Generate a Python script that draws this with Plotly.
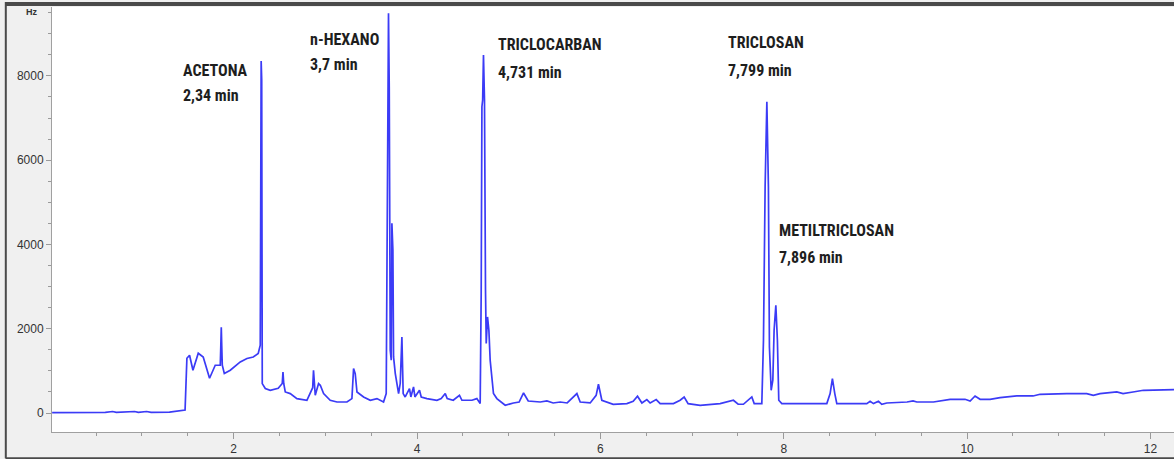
import plotly.graph_objects as go

# ---- data (time in min, signal in Hz) ----
time_min = [
    0.02, 0.30, 0.60, 0.68, 0.72, 0.92, 0.96, 1.05, 1.10, 1.30, 1.38, 1.45, 1.47,
    1.49, 1.519, 1.556, 1.614, 1.668, 1.737, 1.799, 1.854, 1.860, 1.865, 1.870,
    1.876, 1.898, 1.963, 2.072, 2.145, 2.214, 2.268, 2.290, 2.296, 2.300, 2.306,
    2.312, 2.345, 2.399, 2.486, 2.530, 2.538, 2.546, 2.563, 2.617, 2.690, 2.799,
    2.862, 2.871, 2.880, 2.890, 2.926, 2.945, 2.981, 3.053, 3.127, 3.236, 3.290,
    3.308, 3.326, 3.345, 3.417, 3.490, 3.563, 3.599, 3.635, 3.664, 3.671, 3.680,
    3.689, 3.697, 3.708, 3.719, 3.726, 3.737, 3.744, 3.763, 3.799, 3.817, 3.835,
    3.849, 3.871, 3.918, 3.933, 3.962, 3.977, 4.027, 4.046, 4.108, 4.217, 4.264,
    4.308, 4.329, 4.395, 4.463, 4.490, 4.599, 4.653, 4.689, 4.700, 4.708, 4.716,
    4.725, 4.736, 4.747, 4.755, 4.769, 4.784, 4.798, 4.817, 4.834, 4.871, 4.962,
    5.052, 5.114, 5.162, 5.213, 5.344, 5.417, 5.485, 5.562, 5.638, 5.744, 5.780,
    5.889, 5.954, 5.979, 6.016, 6.071, 6.140, 6.289, 6.358, 6.405, 6.453, 6.507,
    6.543, 6.609, 6.652, 6.797, 6.870, 6.914, 6.957, 7.088, 7.197, 7.306, 7.451,
    7.503, 7.560, 7.612, 7.652, 7.678, 7.761, 7.779, 7.797, 7.816, 7.833, 7.844,
    7.863, 7.881, 7.895, 7.914, 7.931, 7.946, 7.979, 8.179, 8.470, 8.506, 8.531,
    8.557, 8.579, 8.906, 8.942, 8.979, 9.033, 9.070, 9.124, 9.345, 9.411, 9.452,
    9.633, 9.815, 9.978, 10.033, 10.087, 10.142, 10.251, 10.360, 10.542, 10.720,
    10.796, 11.087, 11.305, 11.377, 11.450, 11.633, 11.701, 11.810, 11.923, 12.257,
]
signal_hz = [
    10, 10, 15, 35, 15, 35, 15, 35, 15, 20, 40, 55, 70,
    1300, 1370, 1014, 1418, 1330, 824, 1133, 1133, 1600, 2035, 1600,
    1133, 936, 1014, 1211, 1292, 1330, 1411, 1608, 6000, 8353, 7900,
    698, 580, 539, 587, 700, 974, 700, 499, 461, 342, 302,
    600, 1014, 600, 420, 698, 658, 461, 302, 261, 261, 342,
    1054, 936, 499, 380, 302, 342, 302, 261, 461, 2843, 6000,
    9486, 7743, 1489, 1252, 4505, 3864, 1330, 936, 461, 705, 1805,
    461, 380, 580, 380, 618, 380, 539, 380, 342, 302, 342,
    461, 342, 302, 420, 302, 302, 342, 223, 2836, 7268, 7427,
    8495, 7427, 2921, 1648, 2280, 1964, 1252, 777, 461, 342, 183,
    238, 261, 475, 285, 261, 285, 238, 261, 238, 461, 261,
    238, 420, 682, 302, 261, 207, 223, 278, 397, 238, 318,
    238, 318, 223, 223, 302, 380, 223, 183, 207, 223, 302,
    207, 207, 302, 380, 223, 223, 1727, 5368, 7385, 5368, 1568,
    539, 777, 1964, 2558, 1727, 302, 223, 223, 223, 461, 817,
    461, 223, 223, 278, 223, 278, 207, 238, 261, 285, 261,
    261, 325, 325, 285, 404, 325, 325, 366, 404, 404,
    444, 461, 461, 420, 461, 499, 461, 499, 539, 556,
]

# peak labels (compound name, retention time text)
peak_names = ["ACETONA", "n-HEXANO", "TRICLOCARBAN", "TRICLOSAN", "METILTRICLOSAN"]
peak_times = ["2,34 min", "3,7 min", "4,731 min", "7,799 min", "7,896 min"]
label_x = [1.429, 2.813, 4.864, 7.372, 7.928]
label_y1 = [8139, 8852, 8757, 8792, 4339]
label_y2 = [7545, 8282, 8092, 8127, 3686]

x_ticks = [2, 4, 6, 8, 10, 12]
y_ticks = [0, 2000, 4000, 6000, 8000]

fig = go.Figure()
fig.add_trace(go.Scatter(
    x=time_min, y=signal_hz, mode="lines",
    line=dict(color="#3b3bf6", width=1.7), showlegend=False,
))

label_font = dict(family="Liberation Sans Narrow, Arial Narrow, Roboto Condensed, sans-serif",
                  size=16, color="#1e1e1e")
for name, t, x, y1, y2 in zip(peak_names, peak_times, label_x, label_y1, label_y2):
    fig.add_annotation(x=x, y=y1, xref="x", yref="y", text="<b>%s</b>" % name,
                       showarrow=False, xanchor="left", yanchor="middle", font=label_font)
    fig.add_annotation(x=x, y=y2, xref="x", yref="y", text="<b>%s</b>" % t,
                       showarrow=False, xanchor="left", yanchor="middle", font=label_font)

# unit label at the top of the y axis
fig.add_annotation(x=-0.011, y=9517, xref="paper", yref="y", text="<b>Hz</b>",
                   showarrow=False, xanchor="right", yanchor="middle",
                   font=dict(family="Liberation Sans", size=9, color="#333"))

tick_font = dict(family="Liberation Sans, Arial, sans-serif", size=12, color="#333333")
fig.update_xaxes(
    range=[0.0185, 12.257], tickvals=x_ticks, ticks="outside", ticklen=6,
    tickcolor="#9a9a9a", showline=True, linecolor="#a0a0a0", linewidth=1,
    showgrid=False, zeroline=False, tickfont=tick_font, automargin=False,
    minor=dict(dtick=0.5, ticks="outside", ticklen=3, tickcolor="#9a9a9a", showgrid=False),
)
fig.update_yaxes(
    range=[-451, 9635], tickvals=y_ticks, ticks="outside", ticklen=5,
    tickcolor="#9a9a9a", showline=True, linecolor="#a0a0a0", linewidth=1,
    showgrid=False, zeroline=False, tickfont=tick_font, automargin=False,
    minor=dict(dtick=500, ticks="outside", ticklen=3, tickcolor="#9a9a9a", showgrid=False),
)

# frame of the original screenshot
W, H = 1122.0, 424.7
fig.add_shape(type="line", xref="paper", yref="paper",
              x0=(5.5 - 52) / W, x1=1.0, y0=1 + (7 - 4) / H, y1=1 + (7 - 4) / H,
              line=dict(color="#4a4a4a", width=4))
fig.add_shape(type="line", xref="paper", yref="paper",
              x0=(5.8 - 52) / W, x1=(5.8 - 52) / W, y0=1 + (7 - 2) / H, y1=-(458 - 431.7) / H,
              line=dict(color="#4a4a4a", width=2))
fig.add_shape(type="line", xref="paper", yref="paper",
              x0=(5.5 - 52) / W, x1=1.0, y0=-(458 - 431.7) / H, y1=-(458 - 431.7) / H,
              line=dict(color="#4a4a4a", width=2))

fig.update_layout(
    width=1174, height=459,
    margin=dict(l=52, r=0, t=7, b=27),
    paper_bgcolor="#f0f0f0", plot_bgcolor="white",
)

fig.write_html("out.html", config={"displayModeBar": False},
               post_script="document.body.style.margin='0';")
